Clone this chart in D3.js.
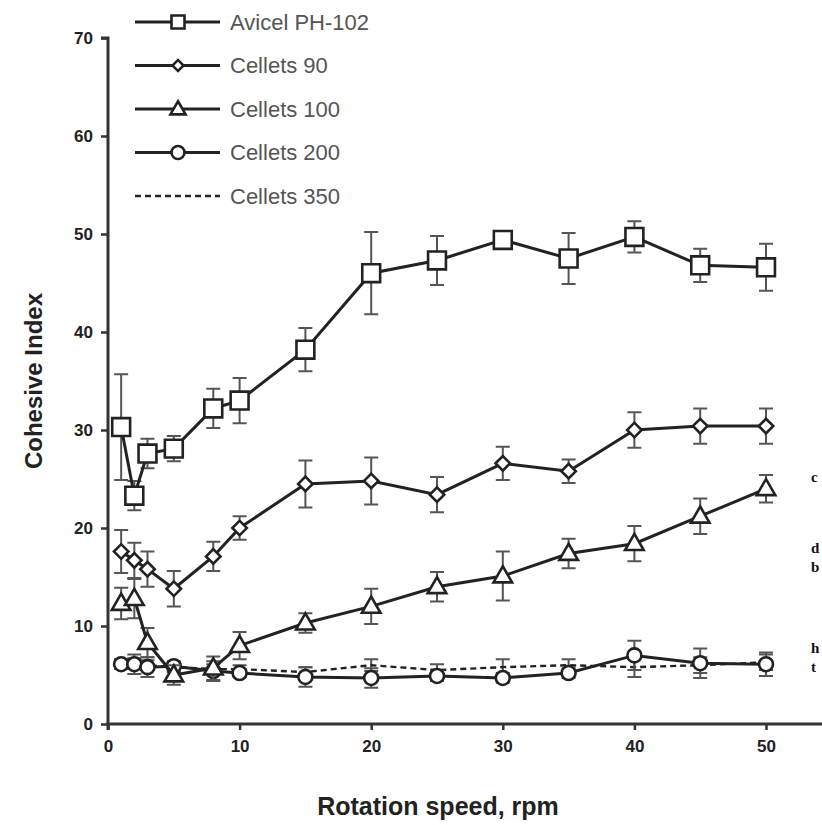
<!DOCTYPE html>
<html>
<head>
<meta charset="utf-8">
<script src="https://cdn.jsdelivr.net/npm/d3@7"></script>
<style>
  body { margin: 0; background: #fff; }
  svg { font-family: Arial, "Liberation Sans", sans-serif; }
</style>
</head>
<body>
<svg id="chart"></svg>
<script>
const svg_width = 822;
const svg_height = 825;

// rotation speed, rpm
var speeds = [1, 2, 3, 5, 8, 10, 15, 20, 25, 30, 35, 40, 45, 50];

var avicel = [30.3, 23.3, 27.6, 28.1, 32.2, 33.0, 38.2, 46.0, 47.3, 49.4, 47.5, 49.7, 46.8, 46.6];
var avicel_err = [5.4, 1.5, 1.5, 1.3, 2.0, 2.3, 2.2, 4.2, 2.5, 0.8, 2.6, 1.6, 1.7, 2.4];

var cel90 = [17.6, 16.7, 15.8, 13.8, 17.1, 20.0, 24.5, 24.8, 23.4, 26.6, 25.8, 30.0, 30.4, 30.4];
var cel90_err = [2.2, 1.8, 1.8, 1.8, 1.5, 1.2, 2.4, 2.4, 1.8, 1.7, 1.2, 1.8, 1.8, 1.8];

var cel100 = [12.3, 12.8, 8.3, 5.0, 5.7, 8.0, 10.3, 12.0, 14.0, 15.1, 17.4, 18.4, 21.2, 24.0];
var cel100_err = [1.6, 2.0, 1.5, 1.0, 1.2, 1.4, 1.0, 1.8, 1.5, 2.5, 1.5, 1.8, 1.8, 1.4];

var cel200 = [6.1, 6.1, 5.8, 5.9, 5.4, 5.2, 4.8, 4.7, 4.9, 4.7, 5.2, 7.0, 6.2, 6.1];
var cel200_err = [0.5, 1.0, 1.0, 0.5, 1.0, 0.4, 1.0, 1.0, 0.5, 0.5, 0.5, 1.5, 1.5, 1.2];

var cel350 = [6.2, 6.2, 6.0, 5.8, 5.6, 5.6, 5.3, 6.0, 5.5, 5.8, 6.0, 5.8, 6.0, 6.3];
var cel350_err = [0.4, 0.5, 0.5, 0.5, 0.5, 0.4, 0.5, 0.6, 0.6, 0.8, 0.6, 1.0, 0.8, 0.8];

var y_ticks = [0, 10, 20, 30, 40, 50, 60, 70];
var x_ticks = [0, 10, 20, 30, 40, 50];

var series = [
  { name: "Cellets 350", values: cel350, err: cel350_err, symbol: null, dash: "6,4" },
  { name: "Cellets 200", values: cel200, err: cel200_err, symbol: "circle", dash: null },
  { name: "Cellets 100", values: cel100, err: cel100_err, symbol: "triangle", dash: null },
  { name: "Cellets 90", values: cel90, err: cel90_err, symbol: "diamond", dash: null },
  { name: "Avicel PH-102", values: avicel, err: avicel_err, symbol: "square", dash: null }
];
var legend_order = ["Avicel PH-102", "Cellets 90", "Cellets 100", "Cellets 200", "Cellets 350"];

var margin = { top: 38, left: 108 };
var plot_height = 686;

var svg = d3.select("svg#chart")
    .attr("width", svg_width)
    .attr("height", svg_height);

var x = d3.scaleLinear().domain([0, 60]).range([margin.left, margin.left + 60 * 13.16]);
var y = d3.scaleLinear().domain([0, 70]).range([margin.top + plot_height, margin.top]);

const ink = "#222";

function marker(g, type) {
  if (type === "square") {
    g.append("path").attr("d", d3.symbol(d3.symbolSquare, 320)())
  } else if (type === "diamond") {
    g.append("path").attr("d", d3.symbol(d3.symbolSquare, 105)()).attr("transform", "rotate(45)");
  } else if (type === "triangle") {
    g.append("path").attr("d", d3.symbol(d3.symbolTriangle, 150)()).attr("transform", "translate(0,1)");
  } else if (type === "circle") {
    g.append("circle").attr("r", 7);
  }
  g.selectAll("path, circle")
    .attr("fill", "#fff")
    .attr("stroke", ink)
    .attr("stroke-width", 2.6);
}

// axes
var yAxis = d3.axisLeft(y).tickValues(y_ticks).tickSize(7).tickPadding(8);
var xAxis = d3.axisBottom(x).tickValues(x_ticks).tickSize(6).tickPadding(10);

var gy = svg.append("g")
    .attr("transform", "translate(" + margin.left + ",0)")
    .call(yAxis);
var gx = svg.append("g")
    .attr("transform", "translate(0," + (margin.top + plot_height) + ")")
    .call(xAxis);

[gx, gy].forEach(g => {
  g.select(".domain").attr("stroke", "#333").attr("stroke-width", 3);
  g.selectAll(".tick line").attr("stroke", "#333").attr("stroke-width", 2.5);
  g.selectAll(".tick text")
    .attr("fill", ink)
    .style("font-size", "17px")
    .style("font-weight", "bold");
});
gy.select(".domain").attr("d", "M-7," + y(70) + "H0V" + y(0));
// the x axis runs on past the last label, off the right edge
gx.select(".domain").attr("d", "M" + x(0) + ",6V0H" + svg_width);

// series
series.forEach(s => {
  var pts = speeds.map((v, i) => ({ x: v, y: s.values[i], e: s.err[i] }));
  var g = svg.append("g");

  g.selectAll(".err")
    .data(pts)
    .enter()
    .append("path")
    .attr("d", d => {
      var cx = x(d.x), y0 = y(d.y - d.e), y1 = y(d.y + d.e);
      return "M" + (cx - 7) + "," + y1 + "H" + (cx + 7) +
        "M" + cx + "," + y1 + "V" + y0 +
        "M" + (cx - 7) + "," + y0 + "H" + (cx + 7);
    })
    .attr("fill", "none")
    .attr("stroke", "#555")
    .attr("stroke-width", 2);

  g.append("path")
    .datum(pts)
    .attr("d", d3.line().x(d => x(d.x)).y(d => y(d.y)))
    .attr("fill", "none")
    .attr("stroke", ink)
    .attr("stroke-width", s.dash ? 2.4 : 3)
    .attr("stroke-dasharray", s.dash);

  if (s.symbol) {
    g.selectAll(".pt")
      .data(pts)
      .enter()
      .append("g")
      .attr("transform", d => "translate(" + x(d.x) + "," + y(d.y) + ")")
      .each(function () { marker(d3.select(this), s.symbol); });
  }
});

// legend
var legend = svg.append("g");
legend_order.forEach((name, i) => {
  var s = series.find(d => d.name === name);
  var ly = 22 + i * 43.5;
  var lg = legend.append("g").attr("transform", "translate(0," + ly + ")");
  lg.append("line")
    .attr("x1", 135).attr("x2", 220)
    .attr("stroke", ink)
    .attr("stroke-width", s.dash ? 2.4 : 2.8)
    .attr("stroke-dasharray", s.dash);
  if (s.symbol) {
    var m = lg.append("g").attr("transform", "translate(178,0)");
    marker(m, s.symbol);
    if (s.symbol === "square") m.select("path").attr("d", d3.symbol(d3.symbolSquare, 170)());
    if (s.symbol === "diamond") m.select("path").attr("d", d3.symbol(d3.symbolSquare, 60)());
    if (s.symbol === "triangle") m.select("path").attr("d", d3.symbol(d3.symbolTriangle, 100)());
    if (s.symbol === "circle") m.select("circle").attr("r", 6.5);
  }
  lg.append("text")
    .attr("x", 230)
    .attr("dy", "0.35em")
    .attr("fill", "#555")
    .style("font-size", "22px")
    .text(name);
});

// axis titles
svg.append("text")
  .attr("transform", "translate(42," + (margin.top + plot_height / 2) + ") rotate(-90)")
  .attr("text-anchor", "middle")
  .attr("fill", ink)
  .style("font-size", "24px")
  .style("font-weight", "bold")
  .text("Cohesive Index");

svg.append("text")
  .attr("x", 438)
  .attr("y", 815)
  .attr("text-anchor", "middle")
  .attr("fill", ink)
  .style("font-size", "25px")
  .style("font-weight", "bold")
  .text("Rotation speed, rpm");

// fragments of neighbouring page text at right edge
var frag = [["c", 482], ["d", 553], ["b", 572], ["h", 653], ["t", 672]];
svg.selectAll(".frag")
  .data(frag)
  .enter()
  .append("text")
  .attr("x", 811)
  .attr("y", d => d[1])
  .attr("fill", "#111")
  .style("font-family", "'Liberation Serif', 'DejaVu Serif', serif")
  .style("font-weight", "bold")
  .style("font-size", "15px")
  .text(d => d[0]);
</script>
</body>
</html>
